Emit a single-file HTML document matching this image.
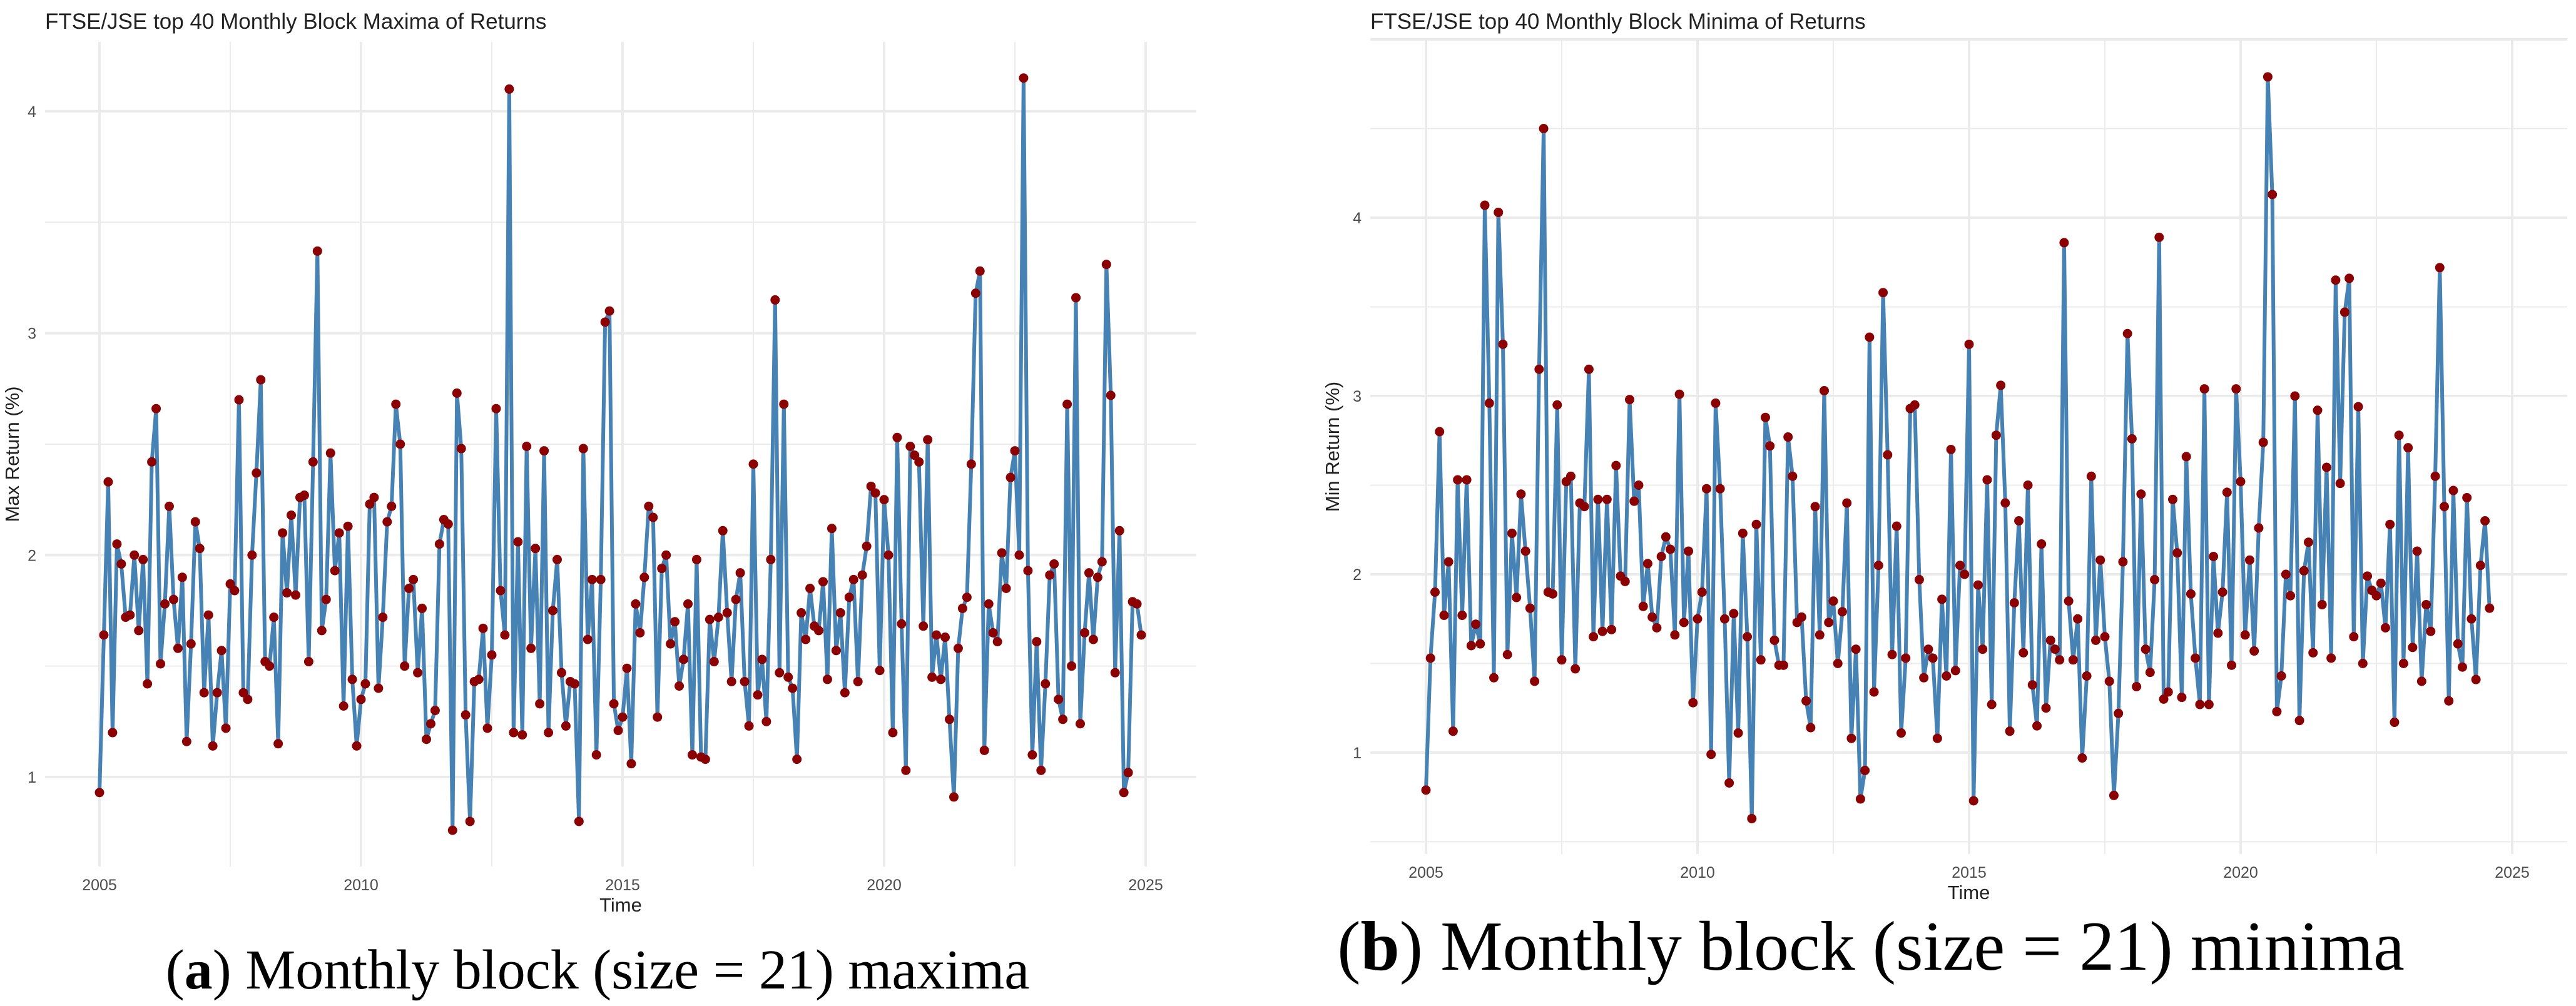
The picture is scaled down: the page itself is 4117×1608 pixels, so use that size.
<!DOCTYPE html>
<html><head><meta charset="utf-8"><style>
html,body{margin:0;padding:0;background:#fff;}
svg{display:block;}
text{font-family:"Liberation Sans",Arial,sans-serif;}
.cap{font-family:"Liberation Serif","Times New Roman",serif;fill:#000;}
</style></head><body>
<svg id="chart" width="4117" height="1608" viewBox="0 0 4117 1608" xmlns="http://www.w3.org/2000/svg">
<g id="pa"></g>
<g id="pb"></g>
<text class="cap" x="955" y="1580" font-size="90" text-anchor="middle">(<tspan font-weight="bold">a</tspan>) Monthly block (size = 21) maxima</text>
<text class="cap" x="2990" y="1550" font-size="112" text-anchor="middle">(<tspan font-weight="bold">b</tspan>) Monthly block (size = 21) minima</text>
</svg>
<script>
const xTicks=[2005,2010,2015,2020,2025];
const yTicksA=[1,2,3,4];
const yTicksB=[1,2,3,4];
const startYear=2005;
const maxima=[
0.93,1.64,2.33,1.20,2.05,1.96,1.72,1.73,2.00,1.66,1.98,1.42,
2.42,2.66,1.51,1.78,2.22,1.80,1.58,1.90,1.16,1.60,2.15,2.03,
1.38,1.73,1.14,1.38,1.57,1.22,1.87,1.84,2.70,1.38,1.35,2.00,
2.37,2.79,1.52,1.50,1.72,1.15,2.10,1.83,2.18,1.82,2.26,2.27,
1.52,2.42,3.37,1.66,1.80,2.46,1.93,2.10,1.32,2.13,1.44,1.14,
1.35,1.42,2.23,2.26,1.40,1.72,2.15,2.22,2.68,2.50,1.50,1.85,
1.89,1.47,1.76,1.17,1.24,1.30,2.05,2.16,2.14,0.76,2.73,2.48,
1.28,0.80,1.43,1.44,1.67,1.22,1.55,2.66,1.84,1.64,4.10,1.20,
2.06,1.19,2.49,1.58,2.03,1.33,2.47,1.20,1.75,1.98,1.47,1.23,
1.43,1.42,0.80,2.48,1.62,1.89,1.10,1.89,3.05,3.10,1.33,1.21,
1.27,1.49,1.06,1.78,1.65,1.90,2.22,2.17,1.27,1.94,2.00,1.60,
1.70,1.41,1.53,1.78,1.10,1.98,1.09,1.08,1.71,1.52,1.72,2.11,
1.74,1.43,1.80,1.92,1.43,1.23,2.41,1.37,1.53,1.25,1.98,3.15,
1.47,2.68,1.45,1.40,1.08,1.74,1.62,1.85,1.68,1.66,1.88,1.44,
2.12,1.57,1.74,1.38,1.81,1.89,1.43,1.91,2.04,2.31,2.28,1.48,
2.25,2.00,1.20,2.53,1.69,1.03,2.49,2.45,2.42,1.68,2.52,1.45,
1.64,1.44,1.63,1.26,0.91,1.58,1.76,1.81,2.41,3.18,3.28,1.12,
1.78,1.65,1.61,2.01,1.85,2.35,2.47,2.00,4.15,1.93,1.10,1.61,
1.03,1.42,1.91,1.96,1.35,1.26,2.68,1.50,3.16,1.24,1.65,1.92,
1.62,1.90,1.97,3.31,2.72,1.47,2.11,0.93,1.02,1.79,1.78,1.64];
const minima=[
0.79,1.53,1.90,2.80,1.77,2.07,1.12,2.53,1.77,2.53,1.60,1.72,
1.61,4.07,2.96,1.42,4.03,3.29,1.55,2.23,1.87,2.45,2.13,1.81,
1.40,3.15,4.50,1.90,1.89,2.95,1.52,2.52,2.55,1.47,2.40,2.38,
3.15,1.65,2.42,1.68,2.42,1.69,2.61,1.99,1.96,2.98,2.41,2.50,
1.82,2.06,1.76,1.70,2.10,2.21,2.14,1.66,3.01,1.73,2.13,1.28,
1.75,1.90,2.48,0.99,2.96,2.48,1.75,0.83,1.78,1.11,2.23,1.65,
0.63,2.28,1.52,2.88,2.72,1.63,1.49,1.49,2.77,2.55,1.73,1.76,
1.29,1.14,2.38,1.66,3.03,1.73,1.85,1.50,1.79,2.40,1.08,1.58,
0.74,0.90,3.33,1.34,2.05,3.58,2.67,1.55,2.27,1.11,1.53,2.93,
2.95,1.97,1.42,1.58,1.53,1.08,1.86,1.43,2.70,1.46,2.05,2.00,
3.29,0.73,1.94,1.58,2.53,1.27,2.78,3.06,2.40,1.12,1.84,2.30,
1.56,2.50,1.38,1.15,2.17,1.25,1.63,1.58,1.52,3.86,1.85,1.52,
1.75,0.97,1.43,2.55,1.63,2.08,1.65,1.40,0.76,1.22,2.07,3.35,
2.76,1.37,2.45,1.58,1.45,1.97,3.89,1.30,1.34,2.42,2.12,1.31,
2.66,1.89,1.53,1.27,3.04,1.27,2.10,1.67,1.90,2.46,1.49,3.04,
2.52,1.66,2.08,1.57,2.26,2.74,4.79,4.13,1.23,1.43,2.00,1.88,
3.00,1.18,2.02,2.18,1.56,2.92,1.83,2.60,1.53,3.65,2.51,3.47,
3.66,1.65,2.94,1.50,1.99,1.91,1.88,1.95,1.70,2.28,1.17,2.78,
1.50,2.71,1.59,2.13,1.40,1.83,1.68,2.55,3.72,2.38,1.29,2.47,
1.61,1.48,2.43,1.75,1.41,2.05,2.30,1.81];

const NS="http://www.w3.org/2000/svg";
function mk(parent,tag,attrs){const e=document.createElementNS(NS,tag);for(const k in attrs)e.setAttribute(k,attrs[k]);parent.appendChild(e);return e;}

function panel(g,cfg){
  const X=t=>cfg.x0+(t-2005)*cfg.pxYear;
  const Y=v=>cfg.y1+(cfg.v1-v)*cfg.pxUnit;
  const grid=mk(g,'g',{});
  
  
  for(let v=Math.ceil(cfg.vmin*2)/2;v<=cfg.vmax;v+=0.5){
    const major=Math.abs(v-Math.round(v))<1e-6;
    mk(grid,'line',{x1:cfg.left,x2:cfg.right,y1:Y(v),y2:Y(v),stroke:'#ebebeb','stroke-width':major?4:2});
  }
  for(let t=2002.5;t<=2027.5;t+=2.5){
    const x=X(t); if(x<cfg.left||x>cfg.right)continue;
    const major=t%5===0;
    mk(grid,'line',{x1:x,x2:x,y1:cfg.top,y2:cfg.bottom,stroke:'#ebebeb','stroke-width':major?4:2});
  }
  cfg.yTicks.forEach(v=>{
    const t=mk(g,'text',{x:cfg.left-14,y:Y(v)+9,'font-size':25,fill:'#4d4d4d','text-anchor':'end'});
    t.textContent=v;
    
    
  });
  xTicks.forEach(yr=>{
    const t=mk(g,'text',{x:X(yr),y:cfg.bottom+38,'font-size':25,fill:'#4d4d4d','text-anchor':'middle'});
    t.textContent=yr;
    
    
  });
  const xt=mk(g,'text',{x:(cfg.left+cfg.right)/2,y:cfg.bottom+72,'font-size':31,fill:'#222','text-anchor':'middle'});
  xt.textContent='Time';
  
  
  const yt=mk(g,'text',{x:0,y:0,'font-size':31,fill:'#222','text-anchor':'middle',transform:`translate(${cfg.ytx},${(cfg.top+cfg.bottom)/2}) rotate(-90)`});
  yt.textContent=cfg.ytitle;
  
  
  const tt=mk(g,'text',{x:cfg.left,y:46,'font-size':35,fill:'#222'});
  tt.textContent=cfg.title;
  
  
  const pts=cfg.data.map((v,i)=>[X(startYear+i/12),Y(v)]);
  const line=mk(g,'polyline',{points:pts.map(p=>p[0].toFixed(1)+','+p[1].toFixed(1)).join(' '),fill:'none',stroke:'#4682b4','stroke-width':6,'stroke-linejoin':'round'});
  
  
  pts.forEach(p=>{
    const c=mk(g,'circle',{cx:p[0],cy:p[1],r:7.5,fill:'#8b0000'});
    
    
  });
}
panel(document.getElementById('pa'),{data:maxima,yTicks:yTicksA,x0:159,pxYear:83.6,y1:1242,v1:1,pxUnit:354.7,
  left:72,right:1912,top:67,bottom:1385,vmin:0.59,vmax:4.32,ytx:30,ytitle:'Max Return (%)',
  title:'FTSE/JSE top 40 Monthly Block Maxima of Returns'});
panel(document.getElementById('pb'),{data:minima,yTicks:yTicksB,x0:2279,pxYear:86.8,y1:1203,v1:1,pxUnit:285,
  left:2190,right:4103,top:63,bottom:1365,vmin:0.42,vmax:5.0,ytx:2140,ytitle:'Min Return (%)',
  title:'FTSE/JSE top 40 Monthly Block Minima of Returns'});
</script>
</body></html>
